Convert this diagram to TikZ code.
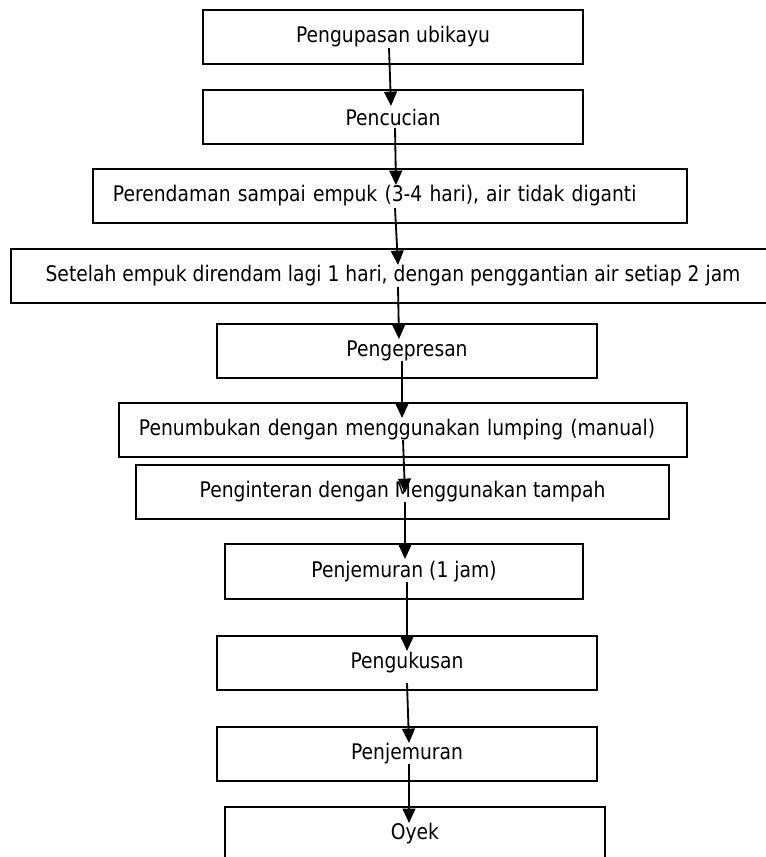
\documentclass[tikz,border=0pt]{standalone}
\usepackage{fontspec}
\setmainfont{DejaVu Sans}[FakeStretch=0.87]
\usetikzlibrary{arrows.meta}

\tikzset{
  box/.style={draw, line width=1.1pt, minimum height=1.35cm, inner sep=0pt,
    font=\fontsize{15.3}{18}\selectfont},
  lbox/.style={box, align=left, inner xsep=0.5cm},
  arr/.style={line width=1.3pt, -{Triangle[length=0.36cm,width=0.32cm]}}
}

\begin{document}
\begin{tikzpicture}[x=0.025cm,y=-0.025cm]
  \useasboundingbox (0,0) rectangle (766,857);
  \clip (0,0) rectangle (766,857);

  \node[box, minimum width=9.5cm] (kupas) at (393,37) {Pengupasan ubikayu};
  \node[box, minimum width=9.5cm] (cuci) at (393,117) {Pencucian};
  \node[lbox, text width=13.85cm] (rendam) at (390,196) {Perendaman sampai empuk (3-4 hari), air tidak diganti};
  \node[box, minimum width=19.1cm] (ganti) at (393,276) {Setelah empuk direndam lagi 1 hari, dengan penggantian air setiap 2 jam};
  \node[box, minimum width=9.5cm] (press) at (407,351) {Pengepresan};
  \node[lbox, text width=13.2cm] (tumbuk) at (403,430) {Penumbukan dengan menggunakan lumping (manual)};
  \node[box, minimum width=13.325cm] (inter) at (402.5,492) {Penginteran dengan Menggunakan tampah};
  \node[box, minimum width=8.95cm, minimum height=1.375cm] (jemur) at (404,571.5) {Penjemuran (1 jam)};
  \node[box, minimum width=9.5cm] (kukus) at (407,663) {Pengukusan};
  \node[box, minimum width=9.5cm] (jemurb) at (407,754) {Penjemuran};
  \node[box, minimum width=9.5cm] (oyek) at (415,834) {Oyek};

  \coordinate (a1) at (389,48);
  \coordinate (b1) at (391,106);
  \coordinate (a2) at (395,128);
  \coordinate (b2) at (396,185);
  \coordinate (a3) at (395,208);
  \coordinate (b3) at (398,265);
  \coordinate (a4) at (398,287);
  \coordinate (b4) at (399,339);
  \coordinate (a5) at (402,361);
  \coordinate (b5) at (402,418);
  \coordinate (a6) at (403,440);
  \coordinate (b6) at (405,493);
  \coordinate (a7) at (405,502);
  \coordinate (b7) at (405,559);
  \coordinate (a8) at (407,582);
  \coordinate (b8) at (407,651);
  \coordinate (a9) at (407,683);
  \coordinate (b9) at (409,743);
  \coordinate (a10) at (409,764);
  \coordinate (b10) at (409,823);

  \draw[arr] (a1) -- (b1);
  \draw[arr] (a2) -- (b2);
  \draw[arr] (a3) -- (b3);
  \draw[arr] (a4) -- (b4);
  \draw[arr] (a5) -- (b5);
  \draw[arr] (a6) -- (b6);
  \draw[arr] (a7) -- (b7);
  \draw[arr] (a8) -- (b8);
  \draw[arr] (a9) -- (b9);
  \draw[arr] (a10) -- (b10);
\end{tikzpicture}
\end{document}
